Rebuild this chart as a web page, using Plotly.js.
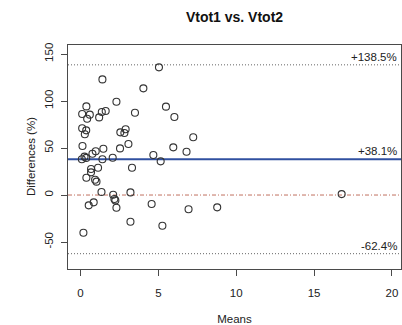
<!DOCTYPE html>
<html>
<head>
<meta charset="utf-8">
<script src="https://cdn.plot.ly/plotly-3.0.1.min.js"></script>
<style>
html,body{margin:0;padding:0;background:#fff;}
#chart{width:402px;height:325px;}
</style>
</head>
<body>
<div id="chart"></div>
<script>
// Bland-Altman data: means (x) and percentage differences (y)
const means = [5.04, 1.41, 4.04, 2.31, 0.38, 0.11, 0.60, 0.43, 1.20, 1.37, 1.62, 3.50, 5.49, 6.03,
  0.11, 0.37, 0.28, 2.56, 2.90, 2.82, 3.08, 7.24, 0.13, 1.47, 2.54, 5.96, 6.81, 0.77, 0.98,
  0.09, 0.26, 0.37, 1.41, 2.07, 4.68, 5.15, 3.31, 1.13, 0.68, 0.68, 0.38, 0.94, 1.03,
  1.35, 2.10, 3.21, 2.18, 2.24, 2.31, 0.53, 0.85, 4.57, 6.94, 8.78, 3.21, 5.26, 0.19, 16.77];
const diffs = [135.8, 123.0, 113.5, 99.3, 94.3, 86.2, 85.5, 81.2, 82.6, 88.3, 89.4, 87.6, 94.0, 83.0,
  71.0, 68.8, 64.6, 66.7, 69.9, 66.0, 54.3, 61.4, 52.1, 49.3, 49.6, 50.7, 46.1, 43.9, 46.5,
  38.0, 40.8, 39.5, 38.0, 39.7, 42.6, 35.8, 29.0, 29.0, 27.7, 24.1, 18.4, 16.3, 14.2,
  3.2, 0.3, 2.8, -4.3, -5.7, -13.5, -11.0, -7.8, -9.6, -15.2, -13.1, -28.4, -32.7, -40.1, 1.0];

const meanDiff = 38.1;
const upperLoA = 138.5;
const lowerLoA = -62.4;
const zeroLine = 0;
const xTicks = [0, 5, 10, 15, 20];
const yTicks = [-50, 0, 50, 100, 150];
const limitLabels = ['+138.5%', '+38.1%', '-62.4%'];
const limitValues = [upperLoA, meanDiff, lowerLoA];

const font = 'Liberation Sans, Arial, Helvetica, sans-serif';
const axisColor = '#4a4a4a';

const trace = {
  x: means, y: diffs, type: 'scatter', mode: 'markers',
  marker: {symbol: 'circle-open', size: 7, color: '#333333', line: {width: 1.1, color: '#333333'}},
  hoverinfo: 'x+y', showlegend: false
};

const hline = (y, color, width, dash) => ({
  type: 'line', xref: 'paper', x0: 0, x1: 1, yref: 'y', y0: y, y1: y,
  line: {color: color, width: width, dash: dash}, layer: 'below'
});

const layout = {
  width: 402, height: 325,
  margin: {l: 68, r: 1, t: 45, b: 56},
  paper_bgcolor: '#ffffff', plot_bgcolor: '#ffffff',
  font: {family: font, size: 11.5, color: '#222222'},
  title: {text: '<b>Vtot1 vs. Vtot2</b>', font: {family: font, size: 14, color: '#111111'},
    x: 0.5, xanchor: 'center', xref: 'paper', y: 1, yref: 'container', yanchor: 'top', pad: {t: 12}},
  xaxis: {
    range: [-0.8, 20.58], tickvals: xTicks, ticktext: xTicks.map(String),
    showgrid: false, zeroline: false, showline: true, mirror: true,
    linecolor: axisColor, linewidth: 1, ticks: 'outside', ticklen: 6, tickcolor: axisColor,
    ticklabelstandoff: 7,
    title: {text: 'Means', font: {family: font, size: 11.5}, standoff: 18}
  },
  yaxis: {
    range: [-78.7, 159.6], tickvals: yTicks, ticktext: yTicks.map(String), tickangle: -90,
    showgrid: false, zeroline: false, showline: true, mirror: true,
    linecolor: axisColor, linewidth: 1, ticks: 'outside', ticklen: 6, tickcolor: axisColor,
    ticklabelstandoff: 3
  },
  shapes: [
    hline(upperLoA, '#666666', 1, '1px,2px'),
    hline(lowerLoA, '#666666', 1, '1px,2px'),
    hline(zeroLine, '#c07060', 1, '4px,2px,1px,2px'),
    hline(meanDiff, '#3050a0', 2, 'solid')
  ],
  annotations: limitLabels.map((t, i) => ({
    text: t, xref: 'paper', x: 0.995, xanchor: 'right', yref: 'y', y: limitValues[i], yanchor: 'bottom',
    showarrow: false, font: {family: font, size: 11.5, color: '#222222'}
  })).concat([{
    text: 'Differences (%)', xref: 'paper', x: -0.111, xanchor: 'center', yref: 'paper', y: 0.5,
    yanchor: 'middle', textangle: -90, showarrow: false, font: {family: font, size: 11.5, color: '#222222'}
  }])
};

Plotly.newPlot('chart', [trace], layout, {displayModeBar: false, staticPlot: true});
</script>
</body>
</html>
